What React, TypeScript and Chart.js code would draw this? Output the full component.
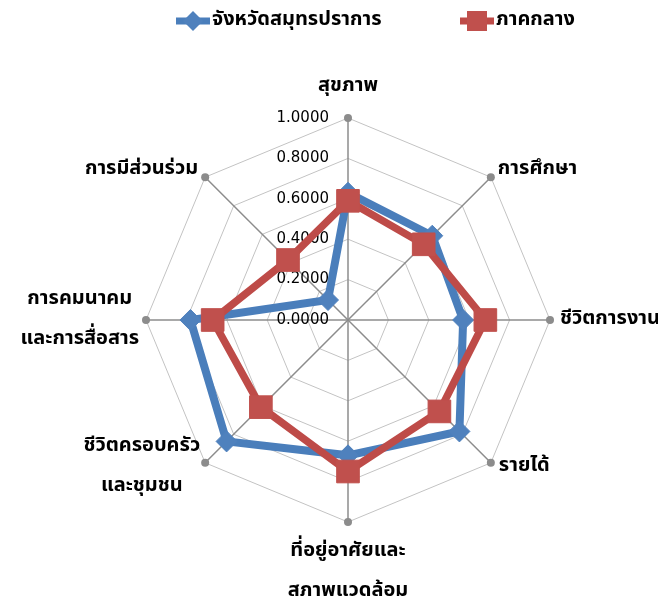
import React, { useEffect, useRef } from 'react';
import { Chart, registerables } from 'chart.js';

Chart.register(...registerables);

// ---- data ----
const CATEGORIES: string[][] = [
  ['สุขภาพ'],
  ['การศึกษา'],
  ['ชีวิตการงาน'],
  ['รายได้'],
  ['ที่อยู่อาศัยและ', 'สภาพแวดล้อม'],
  ['ชีวิตครอบครัว', 'และชุมชน'],
  ['การคมนาคม', 'และการสื่อสาร'],
  ['การมีส่วนร่วม'],
];
const SERIES_NAMES = ['จังหวัดสมุทรปราการ', 'ภาคกลาง'];
const SAMUT_PRAKAN = [0.63, 0.59, 0.57, 0.78, 0.67, 0.85, 0.78, 0.14];
const CENTRAL = [0.59, 0.53, 0.68, 0.64, 0.75, 0.61, 0.67, 0.42];
const TICK_VALUES = [0, 0.2, 0.4, 0.6, 0.8, 1.0];
const TICK_LABELS = ['0.0000', '0.2000', '0.4000', '0.6000', '0.8000', '1.0000'];

// ---- styles ----
const BLUE_LINE = '#4a7ebb';
const BLUE_MARK = '#4f81bd';
const RED_LINE = '#be4b48';
const RED_MARK = '#c0504d';
const THAI_FONT = "'Noto Sans Thai', 'Noto Sans Thai UI', Tahoma, Loma, Garuda, 'Noto Sans', 'DejaVu Sans', sans-serif";
const LABEL_FONT = `bold 20px ${THAI_FONT}`;
const TICK_FONT = "15px 'DejaVu Sans', sans-serif";

// label placement relative to the end-of-spoke dot: [dx, dy, align]
const LABEL_PLACE: [number, number, 'center' | 'left' | 'right'][] = [
  [0, -31, 'center'],
  [7, -7, 'left'],
  [10, 0, 'left'],
  [8, 4, 'left'],
  [0, 50, 'center'],
  [-5, 4, 'right'],
  [-7, 0, 'right'],
  [-7, -7, 'right'],
];
const LINE_GAP = 40;

function drawMarker(ctx: CanvasRenderingContext2D, kind: number, x: number, y: number) {
  ctx.beginPath();
  if (kind === 0) {
    const r = 10;
    ctx.moveTo(x, y - r);
    ctx.lineTo(x + r, y);
    ctx.lineTo(x, y + r);
    ctx.lineTo(x - r, y);
    ctx.closePath();
    ctx.fillStyle = BLUE_MARK;
  } else {
    const h = 10;
    ctx.rect(x - h, y - h, 2 * h, 2 * h);
    ctx.fillStyle = RED_MARK;
  }
  ctx.fill();
}

const decorPlugin = {
  id: 'decor',
  beforeDatasetsDraw(chart: any) {
    const scale = chart.scales.r;
    const ctx: CanvasRenderingContext2D = chart.ctx;
    ctx.save();
    ctx.fillStyle = '#8c8c8c';
    for (let i = 0; i < CATEGORIES.length; i++) {
      const p = scale.getPointPositionForValue(i, 1);
      ctx.beginPath();
      ctx.arc(p.x, p.y, 4, 0, Math.PI * 2);
      ctx.fill();
    }
    ctx.font = TICK_FONT;
    ctx.fillStyle = '#000';
    ctx.textAlign = 'right';
    ctx.textBaseline = 'middle';
    TICK_VALUES.forEach((v, k) => {
      const p = scale.getPointPositionForValue(0, v);
      ctx.fillText(TICK_LABELS[k], p.x - 19, p.y);
    });
    ctx.restore();
  },
  afterDraw(chart: any) {
    const scale = chart.scales.r;
    const ctx: CanvasRenderingContext2D = chart.ctx;
    ctx.save();
    ctx.font = LABEL_FONT;
    ctx.fillStyle = '#000';
    ctx.textBaseline = 'middle';
    ctx.textAlign = 'center';
    CATEGORIES.forEach((lines, i) => {
      const p = scale.getPointPositionForValue(i, 1);
      const [dx, dy, align] = LABEL_PLACE[i];
      const maxW = Math.max(...lines.map((l) => ctx.measureText(l).width));
      let cx = p.x + dx;
      if (align === 'left') cx += maxW / 2;
      if (align === 'right') cx -= maxW / 2;
      const cy = p.y + dy;
      const top = cy - ((lines.length - 1) * LINE_GAP) / 2;
      lines.forEach((l, k) => ctx.fillText(l, cx, top + k * LINE_GAP));
    });

    // legend
    const items = [
      { x: 168, color: BLUE_LINE, kind: 0 },
      { x: 452, color: RED_LINE, kind: 1 },
    ];
    const ly = 13;
    ctx.textAlign = 'left';
    items.forEach((it, k) => {
      ctx.strokeStyle = it.color;
      ctx.lineWidth = 7;
      ctx.beginPath();
      ctx.moveTo(it.x, ly);
      ctx.lineTo(it.x + 34, ly);
      ctx.stroke();
      drawMarker(ctx, it.kind, it.x + 17, ly);
      ctx.fillStyle = '#000';
      ctx.fillText(SERIES_NAMES[k], it.x + 36, ly);
    });
    ctx.restore();
  },
};

export default function App() {
  const ref = useRef<HTMLCanvasElement | null>(null);
  useEffect(() => {
    if (!ref.current) return;
    const chart = new Chart(ref.current, {
      type: 'radar',
      data: {
        labels: CATEGORIES,
        datasets: [
          {
            label: SERIES_NAMES[0],
            data: SAMUT_PRAKAN,
            borderColor: BLUE_LINE,
            backgroundColor: BLUE_MARK,
            borderWidth: 8,
            fill: false,
            pointStyle: 'rectRot',
            pointRadius: 10.5,
            pointBorderWidth: 1,
            pointBorderColor: BLUE_MARK,
            pointBackgroundColor: BLUE_MARK,
            order: 2,
          },
          {
            label: SERIES_NAMES[1],
            data: CENTRAL,
            borderColor: RED_LINE,
            backgroundColor: RED_MARK,
            borderWidth: 7.5,
            fill: false,
            pointStyle: 'rect',
            pointRadius: 16,
            pointBorderWidth: 1,
            pointBorderColor: RED_MARK,
            pointBackgroundColor: RED_MARK,
            order: 1,
          },
        ],
      },
      options: {
        responsive: false,
        animation: false,
        layout: { padding: { left: 100, right: 70, top: 110, bottom: 83 } },
        plugins: { legend: { display: false }, tooltip: { enabled: false } },
        elements: { line: { tension: 0 } },
        scales: {
          r: {
            min: 0,
            max: 1,
            ticks: { display: false, stepSize: 0.2 },
            pointLabels: { display: false },
            grid: { color: '#c3c3c3', lineWidth: 1 },
            angleLines: { color: '#8c8c8c', lineWidth: 1.5 },
          },
        },
      },
      plugins: [decorPlugin],
    });
    return () => chart.destroy();
  }, []);
  return <canvas ref={ref} width={650} height={598} style={{ display: 'block' }} />;
}
